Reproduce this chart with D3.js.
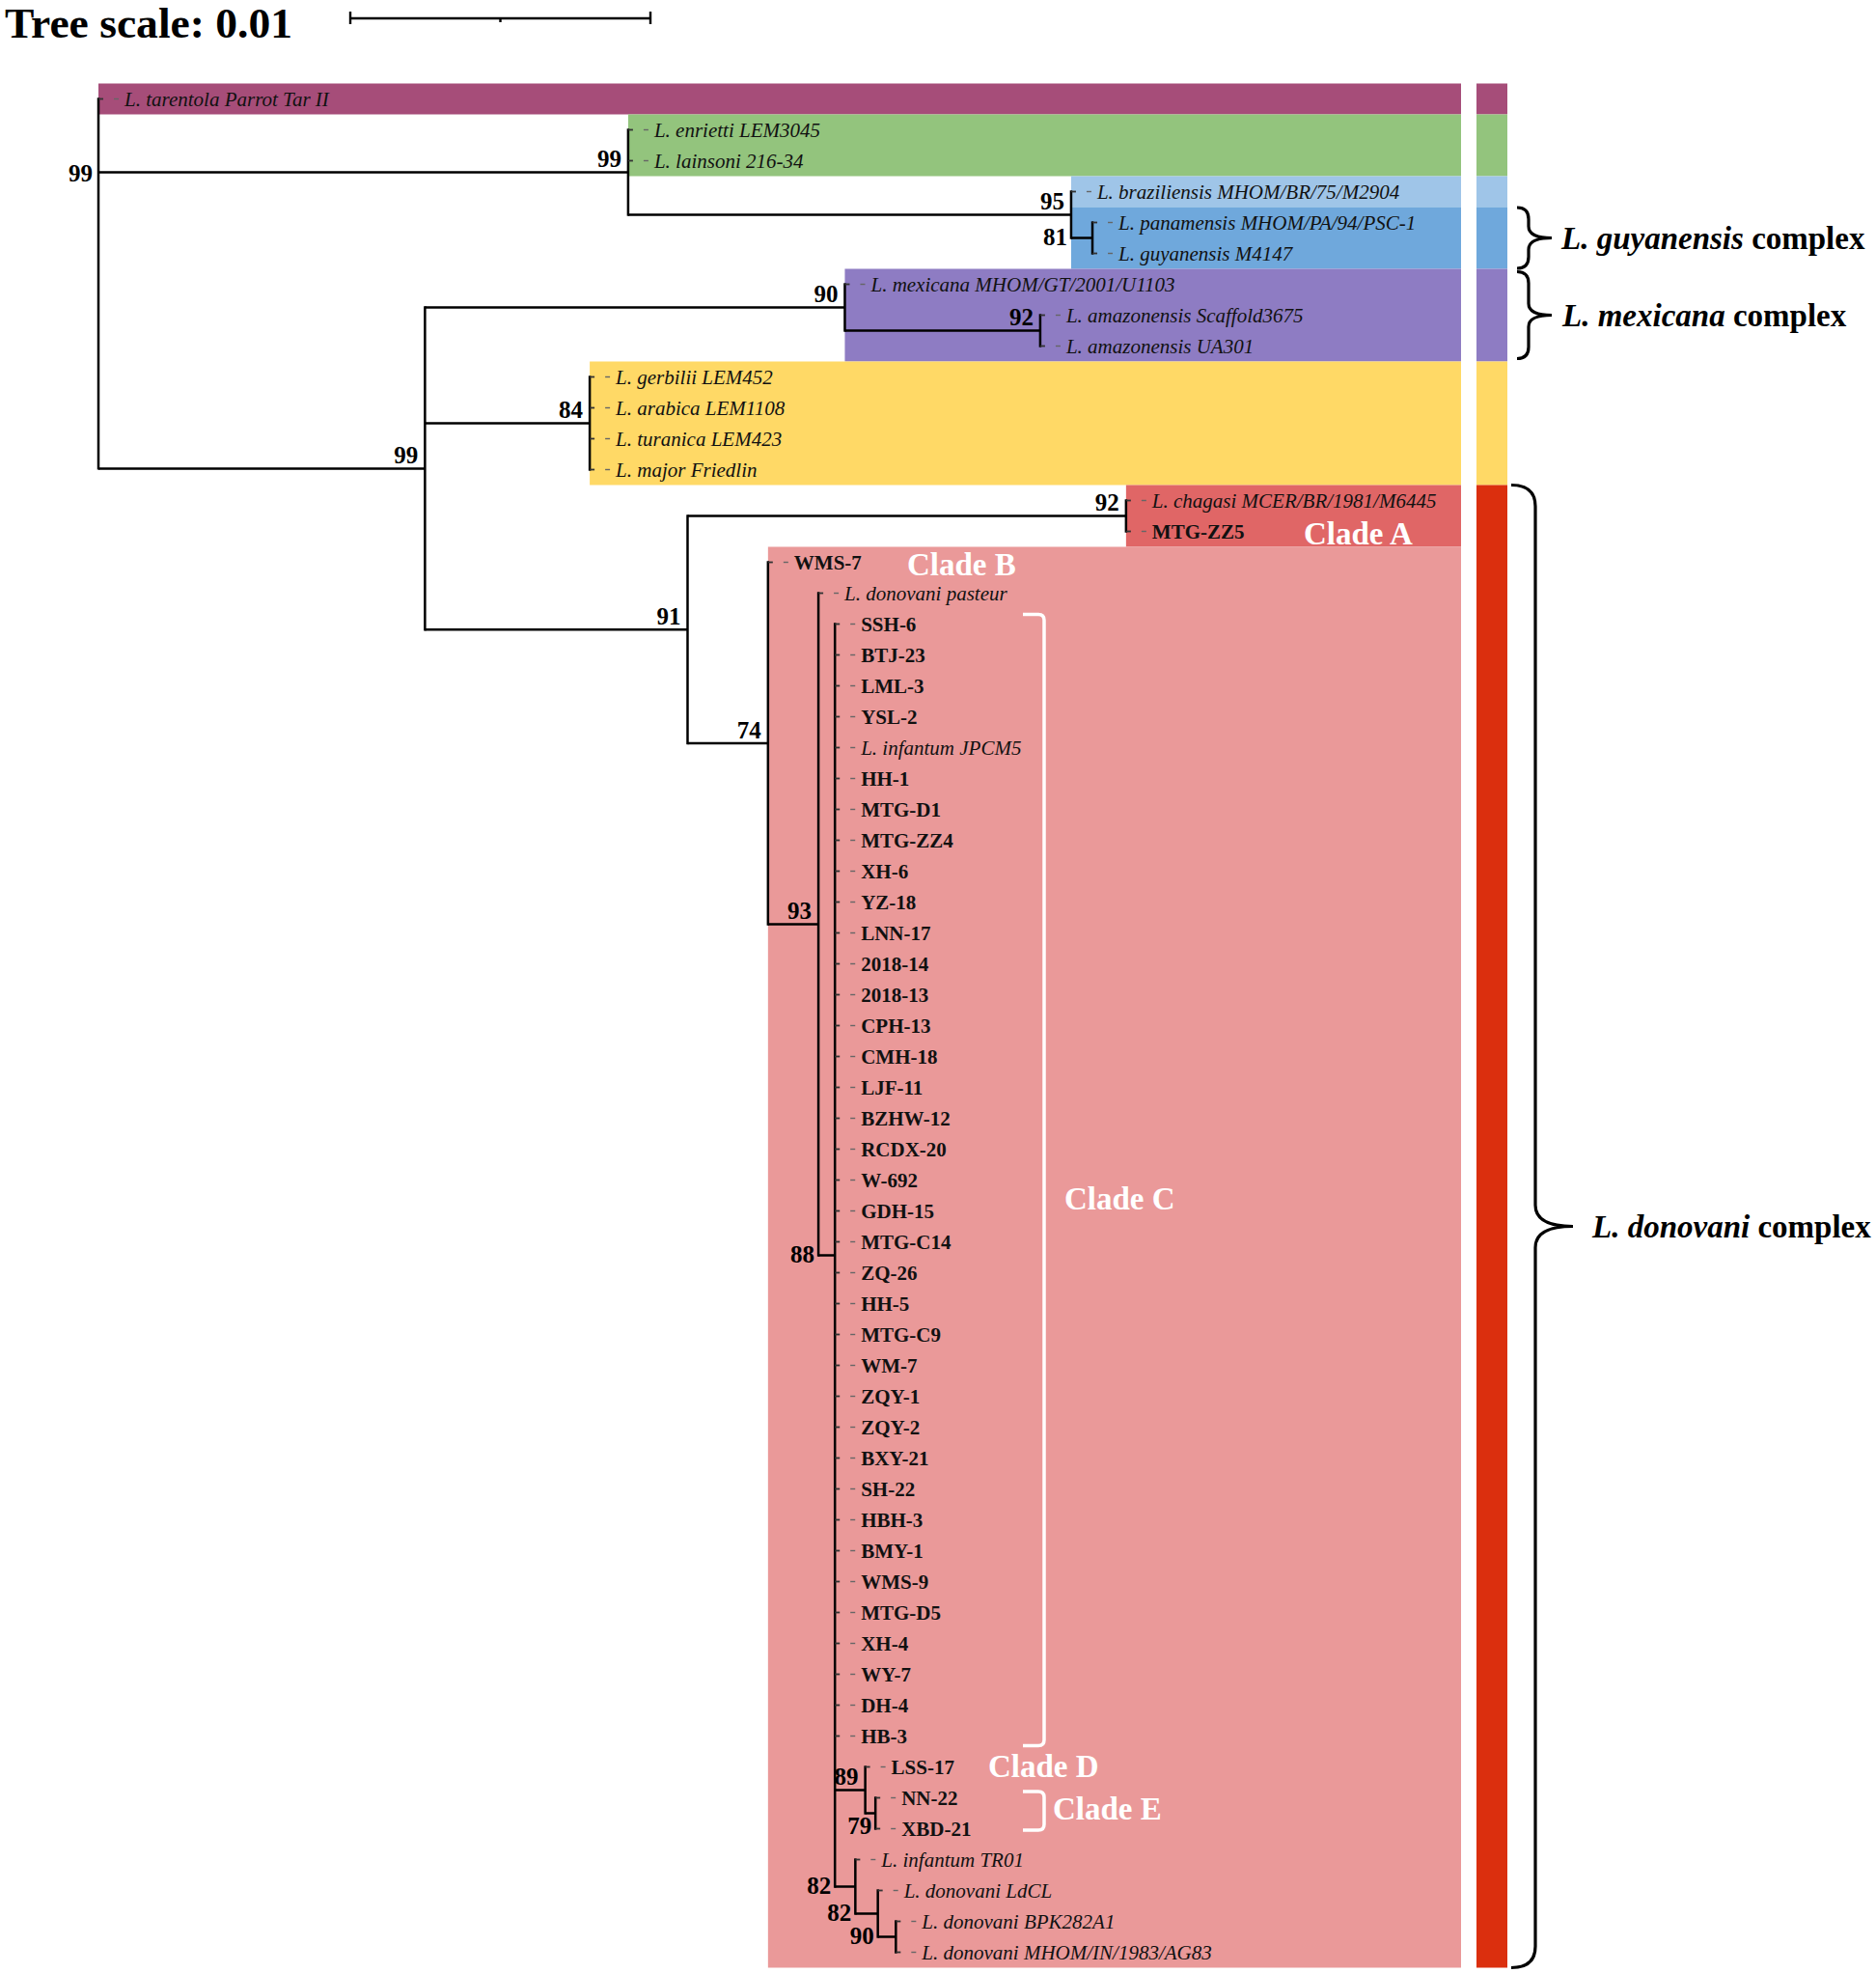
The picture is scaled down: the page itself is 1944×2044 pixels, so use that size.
<!DOCTYPE html>
<html><head><meta charset="utf-8">
<script src="https://cdn.jsdelivr.net/npm/d3@7"></script>
<style>body{margin:0;background:#fff}svg{display:block}</style>
</head><body>
<svg id="c" width="1944" height="2044"></svg>
<script>
// ---------- DATA ----------
// internal nodes (id, parent, branch length in substitutions/site, bootstrap support)
const internalIds     = ["root","viannia","braz","pg","X","mex","amaz","major","donC","chag","n74","n93","n88","n89","n79","n82a","n82b","n90"];
const internalParents = [null,"root","viannia","braz","root","X","mex","X","X","donC","donC","n74","n93","n88","n89","n88","n82a","n82b"];
const internalLengths = [0,0.01765,0.01476,0.00071,0.01088,0.01399,0.00651,0.00549,0.00875,0.01461,0.00268,0.00168,0.00055,0.00101,0.00034,0.00068,0.00075,0.0006];
const supportValues   = [99,99,95,81,99,90,92,84,91,92,74,93,88,89,79,82,82,90];

// leaves, top to bottom, with their parent node
const leafNames = [
 "L. tarentola Parrot Tar II","L. enrietti LEM3045","L. lainsoni 216-34","L. braziliensis MHOM/BR/75/M2904",
 "L. panamensis MHOM/PA/94/PSC-1","L. guyanensis M4147","L. mexicana MHOM/GT/2001/U1103",
 "L. amazonensis Scaffold3675","L. amazonensis UA301","L. gerbilii LEM452","L. arabica LEM1108",
 "L. turanica LEM423","L. major Friedlin","L. chagasi MCER/BR/1981/M6445","MTG-ZZ5","WMS-7",
 "L. donovani pasteur","SSH-6","BTJ-23","LML-3","YSL-2","L. infantum JPCM5","HH-1","MTG-D1","MTG-ZZ4",
 "XH-6","YZ-18","LNN-17","2018-14","2018-13","CPH-13","CMH-18","LJF-11","BZHW-12","RCDX-20","W-692",
 "GDH-15","MTG-C14","ZQ-26","HH-5","MTG-C9","WM-7","ZQY-1","ZQY-2","BXY-21","SH-22","HBH-3","BMY-1",
 "WMS-9","MTG-D5","XH-4","WY-7","DH-4","HB-3","LSS-17","NN-22","XBD-21","L. infantum TR01",
 "L. donovani LdCL","L. donovani BPK282A1","L. donovani MHOM/IN/1983/AG83"
];
const leafParents = [
 "root","viannia","viannia","braz",
 "pg","pg","mex",
 "amaz","amaz","major","major",
 "major","major","chag","chag","n74",
 "n93","n88","n88","n88","n88","n88","n88","n88","n88",
 "n88","n88","n88","n88","n88","n88","n88","n88","n88","n88","n88",
 "n88","n88","n88","n88","n88","n88","n88","n88","n88","n88","n88","n88",
 "n88","n88","n88","n88","n88","n88","n89","n79","n79","n82a",
 "n82b","n90","n90"
];

// colour ranges behind the tree
const rangeFrom   = ["L. tarentola Parrot Tar II","L. enrietti LEM3045","L. braziliensis MHOM/BR/75/M2904","L. panamensis MHOM/PA/94/PSC-1","L. mexicana MHOM/GT/2001/U1103","L. gerbilii LEM452","L. chagasi MCER/BR/1981/M6445","WMS-7"];
const rangeTo     = ["L. tarentola Parrot Tar II","L. lainsoni 216-34","L. braziliensis MHOM/BR/75/M2904","L. guyanensis M4147","L. amazonensis UA301","L. major Friedlin","MTG-ZZ5","L. donovani MHOM/IN/1983/AG83"];
const rangeNode   = ["root","viannia","braz","braz","mex","major","chag","n74"];
const rangeColors = ["#a64d79","#93c47d","#9fc5e8","#6fa8dc","#8e7cc3","#ffd966","#e06666","#ea9999"];

// colour strip on the right
const stripFrom   = ["L. tarentola Parrot Tar II","L. enrietti LEM3045","L. braziliensis MHOM/BR/75/M2904","L. panamensis MHOM/PA/94/PSC-1","L. mexicana MHOM/GT/2001/U1103","L. gerbilii LEM452","L. chagasi MCER/BR/1981/M6445"];
const stripTo     = ["L. tarentola Parrot Tar II","L. lainsoni 216-34","L. braziliensis MHOM/BR/75/M2904","L. guyanensis M4147","L. amazonensis UA301","L. major Friedlin","L. donovani MHOM/IN/1983/AG83"];
const stripColors = ["#a64d79","#93c47d","#9fc5e8","#6fa8dc","#8e7cc3","#ffd966","#db2f0e"];

// species complexes
const complexNames = ["guyanensis","mexicana","donovani"];
const complexFrom  = ["L. panamensis MHOM/PA/94/PSC-1","L. mexicana MHOM/GT/2001/U1103","L. chagasi MCER/BR/1981/M6445"];
const complexTo    = ["L. guyanensis M4147","L. amazonensis UA301","L. donovani MHOM/IN/1983/AG83"];

// clade annotations
const cladeNames  = ["Clade A","Clade B","Clade C","Clade D","Clade E"];
const cladeAnchor = ["MTG-ZZ5","WMS-7","GDH-15","LSS-17","NN-22"];

const treeScaleValue = 0.01;

// ---------- BUILD ----------
const W = 1944, H = 2044;
const FONT = "'Liberation Serif','Times New Roman',serif";
const svg = d3.select("#c");
svg.append("rect").attr("width", W).attr("height", H).attr("fill", "#fff");

const rows = internalIds.map((id, i) => ({id, parentId: internalParents[i], len: internalLengths[i], support: supportValues[i], leaf: false}))
  .concat(leafNames.map((id, i) => ({id, parentId: leafParents[i], len: 0, support: null, leaf: true, order: i})));
const root = d3.stratify().id(d => d.id).parentId(d => d.parentId)(rows);
root.eachAfter(n => { n.minOrder = n.children ? d3.min(n.children, c => c.minOrder) : n.data.order; });
root.sort((a, b) => a.minOrder - b.minOrder);
root.eachBefore(n => { n.dist = n.parent ? n.parent.dist + n.data.len : 0; });

const xScale = d3.scaleLinear().domain([0, treeScaleValue]).range([102, 413]);
const yScale = d3.scaleLinear().domain([0, leafNames.length - 1]).range([102.5, 2022.5]);

root.eachAfter(n => {
  n.px = xScale(n.dist);
  n.py = n.children ? (n.children[0].py + n.children[n.children.length - 1].py) / 2 : yScale(n.data.order);
});
const byId = new Map(root.descendants().map(n => [n.id, n]));
const RIGHT = 1514, HALF = 16;

// colour ranges
const gR = svg.append("g");
rangeColors.forEach((c, i) => {
  const y0 = byId.get(rangeFrom[i]).py - HALF, y1 = byId.get(rangeTo[i]).py + HALF;
  const x0 = byId.get(rangeNode[i]).px;
  gR.append("rect").attr("x", x0).attr("y", y0).attr("width", RIGHT - x0).attr("height", y1 - y0).attr("fill", c);
});

// colour strip
stripColors.forEach((c, i) => {
  const y0 = byId.get(stripFrom[i]).py - HALF, y1 = byId.get(stripTo[i]).py + HALF;
  svg.append("rect").attr("x", 1530).attr("y", y0).attr("width", 32).attr("height", y1 - y0).attr("fill", c);
});

// branches
const gB = svg.append("g").attr("stroke", "#000").attr("stroke-width", 2.5).attr("fill", "none");
root.each(n => {
  if (!n.children) return;
  const f = n.children[0], l = n.children[n.children.length - 1];
  gB.append("line").attr("x1", n.px).attr("x2", n.px).attr("y1", f.py - 1.2).attr("y2", l.py + 1.2);
  n.children.forEach(c => {
    if (c.children) gB.append("line").attr("x1", n.px).attr("x2", c.px).attr("y1", c.py).attr("y2", c.py);
  });
});

// leaves
const gL = svg.append("g");
root.leaves().forEach(n => {
  gL.append("line").attr("x1", n.px).attr("x2", n.px + 5).attr("y1", n.py).attr("y2", n.py).attr("stroke", "#333").attr("stroke-width", 1.8);
  gL.append("line").attr("x1", n.px + 16).attr("x2", n.px + 21).attr("y1", n.py).attr("y2", n.py).attr("stroke", "#666").attr("stroke-width", 1.4);
  const sp = n.id.startsWith("L. ");
  gL.append("text").attr("x", n.px + 27).attr("y", n.py + 7)
    .attr("font-family", FONT).attr("font-size", 21)
    .attr("font-style", sp ? "italic" : "normal").attr("font-weight", sp ? "normal" : "bold")
    .attr("fill", "#111").text(n.id);
});

// support values
const placeLeft = new Set(["pg", "n88", "n82a", "n82b", "n90"]);
const placeBelow = new Set(["n79"]);
const gS = svg.append("g").attr("font-family", FONT).attr("font-size", 25).attr("font-weight", "bold").attr("text-anchor", "end").attr("fill", "#000");
root.each(n => {
  if (!n.children || n.data.support == null) return;
  let x, y;
  if (n === root) { x = n.px - 6; y = n.children[1].py + 9; }
  else if (placeLeft.has(n.id)) { x = n.parent.px - 4; y = n.py + 7.5; }
  else if (placeBelow.has(n.id)) { x = n.px - 4; y = n.py + 21; }
  else { x = n.px - 7; y = n.py - 5.5; }
  gS.append("text").attr("x", x).attr("y", y).text(n.data.support);
});

// clade C & E white brackets
function bracket(xa, xb, y0, y1) {
  const r = 6;
  return `M${xa},${y0} L${xb - r},${y0} Q${xb},${y0} ${xb},${y0 + r} L${xb},${y1 - r} Q${xb},${y1} ${xb - r},${y1} L${xa},${y1}`;
}
svg.append("path").attr("d", bracket(1060, 1082, byId.get("SSH-6").py - 10, byId.get("HB-3").py + 10))
  .attr("fill", "none").attr("stroke", "#fff").attr("stroke-width", 3.5);
svg.append("path").attr("d", bracket(1060, 1082, byId.get("NN-22").py - 6.5, byId.get("XBD-21").py + 1.5))
  .attr("fill", "none").attr("stroke", "#fff").attr("stroke-width", 3.5);

// clade labels
const cladeX = [1351, 940, 1103, 1024, 1091];
const cladeDy = [13, 13, -1.5, 10, 22.5];
cladeNames.forEach((c, i) => {
  svg.append("text").attr("x", cladeX[i]).attr("y", byId.get(cladeAnchor[i]).py + cladeDy[i])
    .attr("font-family", FONT).attr("font-size", 33).attr("font-weight", "bold").attr("fill", "#fff").text(c);
});

// complex braces
function brace(x0, xv, xp, y0, y1, r) {
  const ym = (y0 + y1) / 2;
  return `M${x0},${y0} Q${xv},${y0} ${xv},${y0 + r} L${xv},${ym - r} Q${xv},${ym} ${xp},${ym} Q${xv},${ym} ${xv},${ym + r} L${xv},${y1 - r} Q${xv},${y1} ${x0},${y1}`;
}
const braceGeo = [[1572, 1584, 1608, 12, 1618], [1572, 1584, 1608, 12, 1619], [1566, 1591, 1630, 22, 1650]];
const braceInset = [0.5, 3, 0];
complexNames.forEach((nm, i) => {
  const y0 = byId.get(complexFrom[i]).py - HALF + braceInset[i];
  const y1 = byId.get(complexTo[i]).py + HALF - braceInset[i];
  const g = braceGeo[i];
  svg.append("path").attr("d", brace(g[0], g[1], g[2], y0, y1, g[3]))
    .attr("fill", "none").attr("stroke", "#000").attr("stroke-width", 3.2);
  const t = svg.append("text").attr("x", g[4]).attr("y", (y0 + y1) / 2 + 11)
    .attr("font-family", FONT).attr("font-size", 33).attr("font-weight", "bold").attr("fill", "#000");
  t.append("tspan").attr("font-style", "italic").text("L. " + nm);
  t.append("tspan").text(" complex");
});

// tree scale
svg.append("text").attr("x", 5).attr("y", 39).attr("font-family", FONT).attr("font-size", 44)
  .attr("font-weight", "bold").attr("fill", "#000")
  .attr("textLength", 298).attr("lengthAdjust", "spacingAndGlyphs")
  .text("Tree scale: " + treeScaleValue);
const sbx0 = 363, sbLen = xScale(treeScaleValue) - xScale(0), sby = 19;
const gSB = svg.append("g").attr("stroke", "#000").attr("stroke-width", 2.4);
gSB.append("line").attr("x1", sbx0).attr("x2", sbx0 + sbLen).attr("y1", sby).attr("y2", sby);
gSB.append("line").attr("x1", sbx0).attr("x2", sbx0).attr("y1", sby - 7).attr("y2", sby + 6);
gSB.append("line").attr("x1", sbx0 + sbLen).attr("x2", sbx0 + sbLen).attr("y1", sby - 7).attr("y2", sby + 6);
gSB.append("line").attr("x1", sbx0 + sbLen / 2).attr("x2", sbx0 + sbLen / 2).attr("y1", sby).attr("y2", sby + 4);
</script>
</body></html>
